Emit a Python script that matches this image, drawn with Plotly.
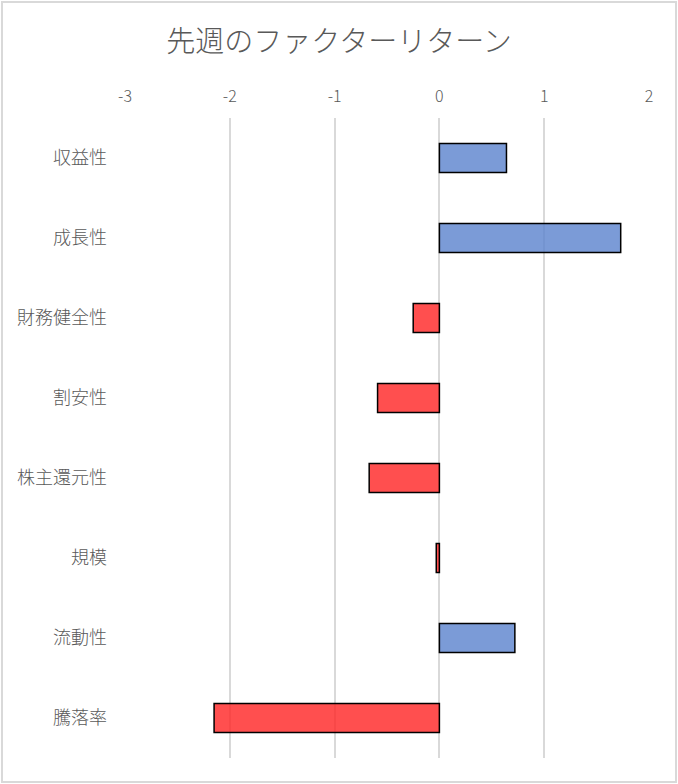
import plotly.graph_objects as go

categories = ["収益性", "成長性", "財務健全性", "割安性", "株主還元性", "規模", "流動性", "騰落率"]
values = [0.64, 1.73, -0.25, -0.59, -0.67, -0.03, 0.72, -2.15]
tick_vals = [-3, -2, -1, 0, 1, 2]
tick_text = ["-3", "-2", "-1", "0", "1", "2"]

colors = ["rgba(90,130,205,0.8)" if v >= 0 else "rgba(255,40,40,0.82)" for v in values]

fig = go.Figure(go.Bar(
    y=categories, x=values, orientation="h",
    marker=dict(color=colors, line=dict(color="black", width=1.5)),
    width=0.36,
))

W, H = 678, 784
ml, mr, mt, mb = 125, 29, 118, 26
pw, ph = W - ml - mr, H - mt - mb

fig.update_layout(
    width=W, height=H,
    margin=dict(l=ml, r=mr, t=mt, b=mb),
    paper_bgcolor="white", plot_bgcolor="white",
    font=dict(family="Noto Sans CJK JP", color="#595959"),
    title=dict(text="先週のファクターリターン", x=0.5, xanchor="center", y=1 - 42 / H, yanchor="middle",
               font=dict(size=29, color="#595959", weight=300)),
    showlegend=False,
    xaxis=dict(range=[-3, 2], tickvals=tick_vals, ticktext=tick_text, side="top", showgrid=True,
               gridcolor="#D9D9D9", gridwidth=1.5, zeroline=False, showline=False, ticks="",
               tickfont=dict(size=16, color="#595959", weight=300), ticklabelstandoff=12),
    yaxis=dict(categoryorder="array", categoryarray=categories[::-1], showgrid=False, zeroline=False,
               showline=False, ticks="", tickfont=dict(size=18, color="#595959", weight=300),
               ticklabelstandoff=17),
    shapes=[dict(type="rect", xref="paper", yref="paper",
                 x0=-(ml - 2) / pw, x1=1 + (mr - 2) / pw, y0=-(mb - 2) / ph, y1=1 + (mt - 2) / ph,
                 line=dict(color="#D9D9D9", width=2), fillcolor="rgba(0,0,0,0)", layer="below")],
)

fig.write_html("out.html", config={"displayModeBar": False},
               post_script="document.body.style.margin='0';document.body.style.overflow='hidden';")
